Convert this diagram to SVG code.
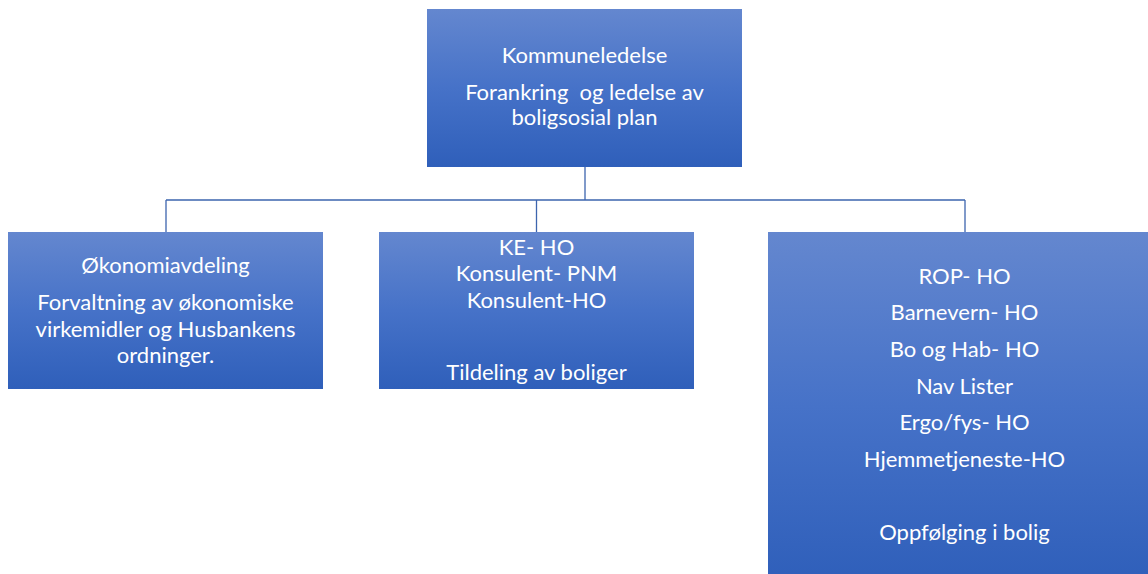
<svg xmlns="http://www.w3.org/2000/svg" width="1148" height="574" viewBox="0 0 1148 574">
<defs>
<linearGradient id="g" x1="0" y1="0" x2="0" y2="1">
<stop offset="0" stop-color="#6487cf"/>
<stop offset="0.5" stop-color="#4672c8"/>
<stop offset="1" stop-color="#2f5fba"/>
</linearGradient>
<style>
.box{fill:url(#g);}
.t{font-family:Lato,"Open Sans","Liberation Sans",sans-serif;font-size:22px;fill:#ffffff;text-anchor:middle;}
.c{fill:none;stroke:#3d65ae;stroke-width:1.3;}
</style>
</defs>
<rect width="1148" height="574" fill="#ffffff"/>
<g id="connectors">
<path class="c" d="M585,167 V200 M166,200 H965 M166,200 V232 M536.5,200 V232 M965,200 V232"/>
</g>
<g id="top">
<rect class="box" x="427" y="9" width="315" height="158"/>
<text class="t" x="584.5" y="63">Kommuneledelse</text>
<text class="t" x="584.5" y="100" xml:space="preserve">Forankring  og ledelse av</text>
<text class="t" x="584.5" y="125">boligsosial plan</text>
</g>
<g id="okonomi">
<rect class="box" x="8" y="232" width="315" height="157"/>
<text class="t" x="165.5" y="273">Økonomiavdeling</text>
<text class="t" x="165.5" y="310">Forvaltning av økonomiske</text>
<text class="t" x="165.5" y="336.5">virkemidler og Husbankens</text>
<text class="t" x="165.5" y="362.5">ordninger.</text>
</g>
<g id="tildeling">
<rect class="box" x="379" y="232" width="315" height="157"/>
<text class="t" x="536.5" y="255">KE- HO</text>
<text class="t" x="536.5" y="281">Konsulent- PNM</text>
<text class="t" x="536.5" y="307.5">Konsulent-HO</text>
<text class="t" x="536.5" y="380">Tildeling av boliger</text>
</g>
<g id="oppfolging">
<rect class="box" x="768" y="232" width="393" height="350"/>
<text class="t" x="964.5" y="283.5">ROP- HO</text>
<text class="t" x="964.5" y="320">Barnevern- HO</text>
<text class="t" x="964.5" y="356.5">Bo og Hab- HO</text>
<text class="t" x="964.5" y="393.5">Nav Lister</text>
<text class="t" x="964.5" y="430">Ergo/fys- HO</text>
<text class="t" x="964.5" y="466.5">Hjemmetjeneste-HO</text>
<text class="t" x="964.5" y="540">Oppfølging i bolig</text>
</g>
</svg>
